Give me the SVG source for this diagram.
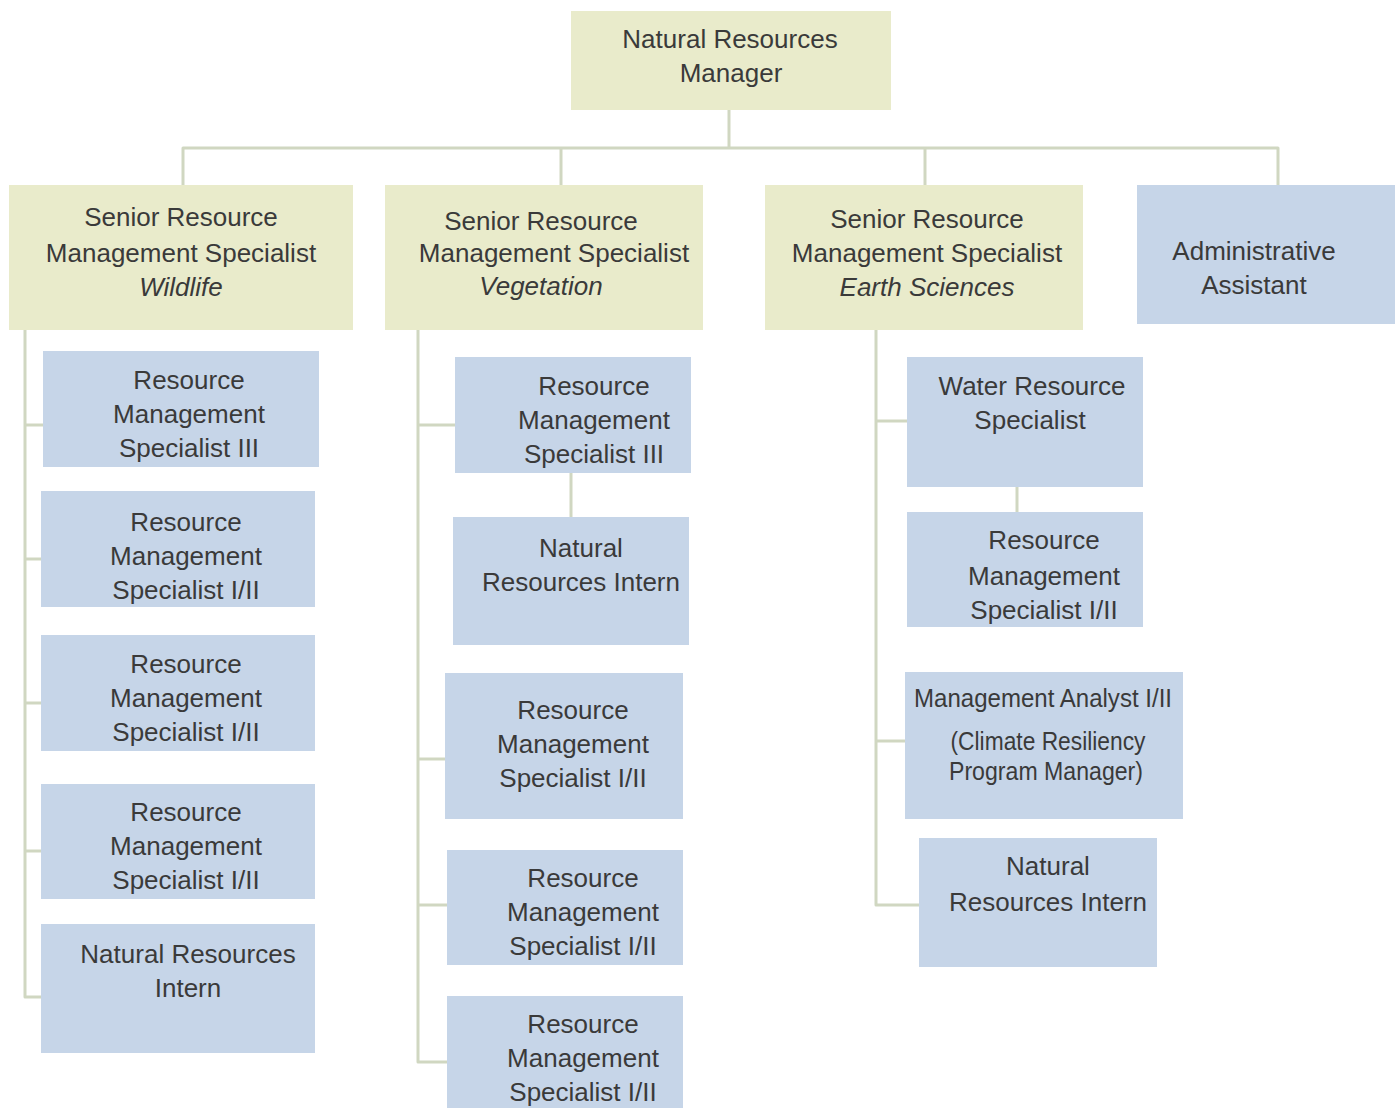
<svg xmlns="http://www.w3.org/2000/svg" width="1397" height="1108" viewBox="0 0 1397 1108">
  <style>
    .lead { fill: #e9ebcb; }
    .staff { fill: #c6d5e8; }
    .wire { fill: none; stroke: #d0d7c1; stroke-width: 3; stroke-linejoin: round; stroke-linecap: butt; }
    text { font-family: "Liberation Sans", Arial, sans-serif; font-size: 26px; fill: #3a3a3a; text-anchor: middle; }
    .em { font-style: italic; }
  </style>
  <rect width="1397" height="1108" fill="#ffffff"/>

  <!-- reporting lines -->
  <g id="connectors" class="wire">
    <path d="M729 110 V148"/>
    <path d="M183 185 V148 H1278 V185"/>
    <path d="M561 148 V185"/>
    <path d="M925 148 V185"/>
    <!-- wildlife -->
    <path d="M25 330 V997 H41"/>
    <path d="M25 425 H43"/>
    <path d="M25 559 H41"/>
    <path d="M25 703 H41"/>
    <path d="M25 851 H41"/>
    <!-- vegetation -->
    <path d="M418 330 V1062 H447"/>
    <path d="M418 425 H455"/>
    <path d="M418 759 H445"/>
    <path d="M418 905 H447"/>
    <path d="M571 473 V517"/>
    <!-- earth sciences -->
    <path d="M876 330 V905 H919"/>
    <path d="M876 421 H907"/>
    <path d="M876 741 H905"/>
    <path d="M1017 487 V512"/>
  </g>

  <g id="manager">
    <rect class="lead" x="571" y="11" width="320" height="99"/>
    <text x="730" y="48">Natural Resources</text>
    <text x="731" y="82">Manager</text>
  </g>

  <g id="senior-wildlife">
    <rect class="lead" x="9" y="185" width="344" height="145"/>
    <text x="181" y="226">Senior Resource</text>
    <text x="181" y="262">Management Specialist</text>
    <text x="181" y="296" class="em">Wildlife</text>
  </g>
  <g id="senior-vegetation">
    <rect class="lead" x="385" y="185" width="318" height="145"/>
    <text x="541" y="230">Senior Resource</text>
    <text x="554" y="262">Management Specialist</text>
    <text x="541" y="295" class="em">Vegetation</text>
  </g>
  <g id="senior-earth">
    <rect class="lead" x="765" y="185" width="318" height="145"/>
    <text x="927" y="228">Senior Resource</text>
    <text x="927" y="262">Management Specialist</text>
    <text x="927" y="296" class="em">Earth Sciences</text>
  </g>
  <g id="admin-assistant">
    <rect class="staff" x="1137" y="185" width="258" height="139"/>
    <text x="1254" y="260">Administrative</text>
    <text x="1254" y="294">Assistant</text>
  </g>

  <!-- wildlife staff -->
  <g id="w-rms3">
    <rect class="staff" x="43" y="351" width="276" height="116"/>
    <text x="189" y="389">Resource</text>
    <text x="189" y="423">Management</text>
    <text x="189" y="457">Specialist III</text>
  </g>
  <g id="w-rms12-a">
    <rect class="staff" x="41" y="491" width="274" height="116"/>
    <text x="186" y="531">Resource</text>
    <text x="186" y="565">Management</text>
    <text x="186" y="599">Specialist I/II</text>
  </g>
  <g id="w-rms12-b">
    <rect class="staff" x="41" y="635" width="274" height="116"/>
    <text x="186" y="673">Resource</text>
    <text x="186" y="707">Management</text>
    <text x="186" y="741">Specialist I/II</text>
  </g>
  <g id="w-rms12-c">
    <rect class="staff" x="41" y="784" width="274" height="115"/>
    <text x="186" y="821">Resource</text>
    <text x="186" y="855">Management</text>
    <text x="186" y="889">Specialist I/II</text>
  </g>
  <g id="w-intern">
    <rect class="staff" x="41" y="924" width="274" height="129"/>
    <text x="188" y="963">Natural Resources</text>
    <text x="188" y="997">Intern</text>
  </g>

  <!-- vegetation staff -->
  <g id="v-rms3">
    <rect class="staff" x="455" y="357" width="236" height="116"/>
    <text x="594" y="395">Resource</text>
    <text x="594" y="429">Management</text>
    <text x="594" y="463">Specialist III</text>
  </g>
  <g id="v-intern">
    <rect class="staff" x="453" y="517" width="236" height="128"/>
    <text x="581" y="557">Natural</text>
    <text x="581" y="591">Resources Intern</text>
  </g>
  <g id="v-rms12-a">
    <rect class="staff" x="445" y="673" width="238" height="146"/>
    <text x="573" y="719">Resource</text>
    <text x="573" y="753">Management</text>
    <text x="573" y="787">Specialist I/II</text>
  </g>
  <g id="v-rms12-b">
    <rect class="staff" x="447" y="850" width="236" height="115"/>
    <text x="583" y="887">Resource</text>
    <text x="583" y="921">Management</text>
    <text x="583" y="955">Specialist I/II</text>
  </g>
  <g id="v-rms12-c">
    <rect class="staff" x="447" y="996" width="236" height="120"/>
    <text x="583" y="1033">Resource</text>
    <text x="583" y="1067">Management</text>
    <text x="583" y="1101">Specialist I/II</text>
  </g>

  <!-- earth sciences staff -->
  <g id="e-water">
    <rect class="staff" x="907" y="357" width="236" height="130"/>
    <text x="1032" y="395">Water Resource</text>
    <text x="1030" y="429">Specialist</text>
  </g>
  <g id="e-rms12">
    <rect class="staff" x="907" y="512" width="236" height="115"/>
    <text x="1044" y="549">Resource</text>
    <text x="1044" y="585">Management</text>
    <text x="1044" y="619">Specialist I/II</text>
  </g>
  <g id="e-analyst">
    <rect class="staff" x="905" y="672" width="278" height="147"/>
    <text x="1043" y="707" font-size="25" textLength="258" lengthAdjust="spacingAndGlyphs">Management Analyst I/II</text>
    <text x="1048" y="750" font-size="25" textLength="195" lengthAdjust="spacingAndGlyphs">(Climate Resiliency</text>
    <text x="1046" y="780" font-size="25" textLength="194" lengthAdjust="spacingAndGlyphs">Program Manager)</text>
  </g>
  <g id="e-intern">
    <rect class="staff" x="919" y="838" width="238" height="129"/>
    <text x="1048" y="875">Natural</text>
    <text x="1048" y="911">Resources Intern</text>
  </g>
</svg>
